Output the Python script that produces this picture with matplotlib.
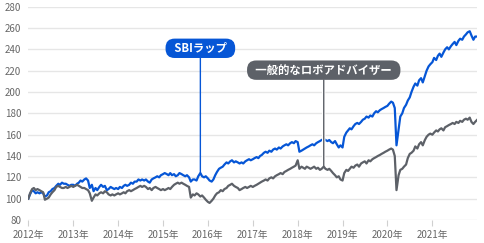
import pandas as pd
import matplotlib.pyplot as plt
import matplotlib.dates as mdates
import matplotlib.patheffects as pe

plt.rcParams['font.family'] = ['Noto Sans CJK JP', 'DejaVu Sans']

# semi-monthly values, Jan 2012 .. Jan 2022
sbi_wrap = [
    100, 104, 108, 107, 105, 106, 105, 106, 105, 102, 103, 106, 107, 109, 110, 112, 114, 113, 115, 114, 114, 113, 112, 113,
    113, 112, 114, 115, 117, 116, 118, 119, 117, 110, 113, 107, 110, 108, 111, 113, 111, 112, 108, 109, 111, 110, 109, 110,
    109, 111, 110, 112, 113, 112, 113, 115, 114, 116, 116, 118, 117, 118, 117, 118, 116, 115, 118, 119, 120, 121, 120, 122,
    123, 124, 123, 122, 124, 122, 123, 121, 122, 124, 123, 122, 121, 122, 120, 116, 118, 118, 117, 121, 124, 121, 120, 121,
    119, 117, 116, 118, 122, 125, 128, 129, 130, 132, 134, 133, 135, 136, 134, 135, 134, 133, 134, 133, 135, 136, 137, 136,
    137, 138, 139, 138, 140, 141, 143, 144, 143, 145, 144, 146, 147, 146, 148, 147, 149, 150, 151, 150, 152, 153, 152, 154,
    153, 144, 145, 146, 147, 148, 149, 150, 151, 150, 152, 153, 154, 155, 156, 155, 154, 155, 153, 152, 154, 151, 148, 150,
    148, 158, 162, 164, 166, 165, 168, 170, 171, 170, 172, 174, 175, 177, 176, 178, 177, 180, 182, 181, 183, 184, 185, 186,
    187, 189, 191, 190, 185, 150, 165, 177, 180, 185, 188, 192, 195, 200, 205, 208, 206, 211, 213, 209, 215, 220, 224, 226,
    228, 232, 230, 234, 236, 233, 237, 240, 242, 240, 243, 245, 247, 244, 248, 250, 249, 252, 254, 256, 257, 253, 249, 252,
    252,
]
robo_advisor = [
    100, 105, 109, 110, 108, 109, 108, 107, 106, 99, 100, 101, 104, 106, 108, 111, 112, 111, 110, 110, 111, 110, 111, 112,
    111, 112, 113, 112, 111, 110, 110, 109, 108, 105, 98, 101, 104, 103, 105, 106, 105, 107, 106, 104, 103, 104, 103, 104,
    105, 104, 105, 106, 105, 107, 108, 107, 108, 109, 110, 111, 112, 111, 112, 111, 109, 110, 108, 110, 111, 110, 109, 108,
    109, 108, 109, 110, 109, 111, 113, 114, 115, 114, 115, 114, 113, 112, 111, 101, 104, 103, 105, 104, 102, 103, 101, 99,
    97, 96, 98, 100, 103, 105, 106, 108, 107, 109, 110, 112, 113, 114, 112, 111, 110, 108, 109, 110, 111, 110, 111, 112,
    111, 112, 113, 114, 115, 116, 117, 118, 117, 119, 120, 119, 121, 122, 123, 124, 123, 125, 126, 127, 128, 129, 130, 131,
    136, 128, 130, 129, 128, 130, 129, 128, 129, 130, 128, 129, 127, 128, 130, 128, 127, 128, 126, 124, 122, 120, 121, 118,
    117, 124, 127, 126, 128, 130, 129, 131, 132, 130, 133, 134, 135, 133, 136, 135, 137, 138, 139, 140, 141, 142, 143, 144,
    145, 146, 147, 146, 140, 108, 122, 127, 128, 130, 132, 138, 142, 143, 145, 149, 147, 151, 153, 150, 155, 158, 160, 161,
    160, 162, 164, 163, 165, 166, 164, 167, 168, 169, 170, 171, 170, 172, 171, 173, 172, 174, 175, 174, 176, 172, 170, 172,
    174,
]
dates = pd.date_range('2012-01-01', periods=len(sbi_wrap), freq='SMS')
years = list(range(2012, 2022))
yticks = list(range(80, 281, 20))

blue = '#0656d6'
gray = '#5d6168'

fig = plt.figure(figsize=(4.84, 2.43), dpi=100)
ax = fig.add_axes([0.0585, 0.0947, 0.9275, 0.8777])

ax.plot(dates, sbi_wrap, color=blue, lw=1.6, zorder=3)
ax.plot(dates, robo_advisor, color=gray, lw=1.6, zorder=4)

ax.set_ylim(80, 280)
ax.set_xlim(pd.Timestamp('2012-01-01'), pd.Timestamp('2022-01-01'))
ax.set_yticks(yticks)
ax.set_xticks([pd.Timestamp(f'{y}-01-01') for y in years])
ax.set_xticklabels([f'{y}年' for y in years])
ax.grid(axis='y', color='#e6e6e6', lw=1)
ax.set_axisbelow(True)
for s in ax.spines.values():
    s.set_visible(False)
ax.tick_params(axis='y', length=0, pad=5, labelsize=7, labelcolor='#666666')
ax.tick_params(axis='x', length=4, width=0.8, color='#d0d0d0', pad=3,
               labelsize=7, labelcolor='#666666')

# label callouts
i = 92
ax.annotate('  SBIラップ  ', xy=(dates[i], sbi_wrap[i]), xytext=(dates[i], 241),
            ha='center', va='center', fontsize=8.2, fontweight='bold', color='white',
            bbox=dict(boxstyle='round,pad=0.28,rounding_size=0.8', fc=blue, ec='none'),
            arrowprops=dict(arrowstyle='-', color=blue, lw=1, shrinkA=0, shrinkB=0),
            zorder=6)
j = 158
ax.annotate('  一般的なロボアドバイザー  ', xy=(dates[j], robo_advisor[j]), xytext=(dates[j], 220.5),
            ha='center', va='center', fontsize=8.2, fontweight='bold', color='white',
            bbox=dict(boxstyle='round,pad=0.28,rounding_size=0.8', fc=gray, ec='none'),
            arrowprops=dict(arrowstyle='-', color=gray, lw=1, shrinkA=0, shrinkB=0,
                            path_effects=[pe.Stroke(linewidth=2.5, foreground='white'), pe.Normal()]),
            zorder=3.5)

fig.savefig('out.png', dpi=100)
